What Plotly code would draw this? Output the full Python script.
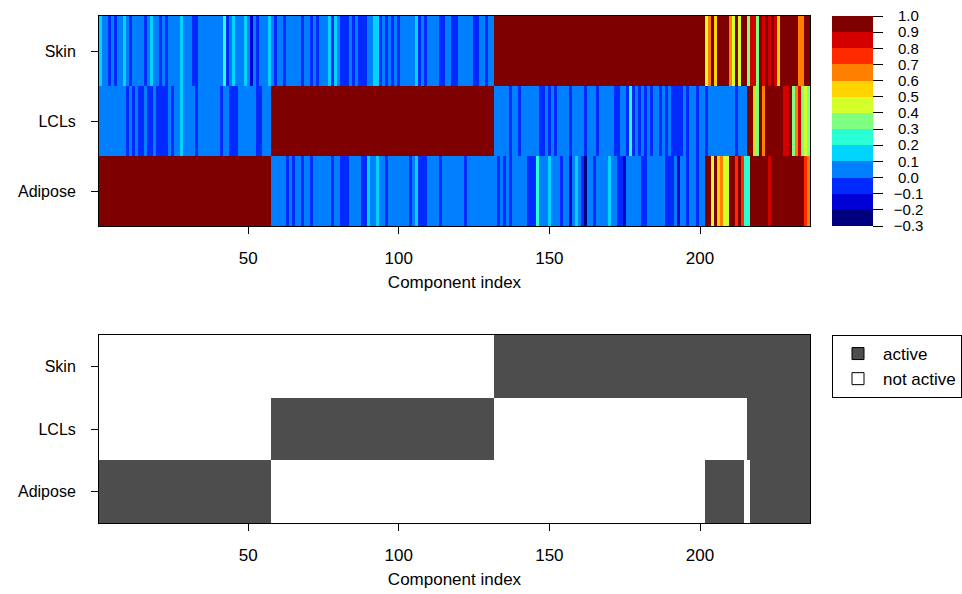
import plotly.graph_objects as go

W, H = 962, 594

TISSUES = ["Adipose", "LCLs", "Skin"]
N_COMPONENTS = 236
COMPONENT_INDEX = list(range(1, N_COMPONENTS + 1))

# One letter per component; each letter stands for a value inside one 0.1-wide band
LEVEL = {
    "n": -0.25, "b": -0.15, "m": -0.05, "a": 0.05, "c": 0.15, "q": 0.25, "g": 0.35,
    "y": 0.45, "o": 0.55, "O": 0.65, "R": 0.75, "r": 0.85, "D": 0.98,
}

SKIN_LEVELS = (
    "caamamaaca" "maaaamacaa" "mamaaaacaa" "ammaaaaaaa"
    "aqmacaaaca" "bamaaacama" "amaaaaamaa" "mamaaacmca"
    "mmmamammma" "accmamamam" "aaaaacmama" "aaammaamma"
    "aaaammaamaa"
    + "D" * 70
    + "yODoDDDDOyDyDDgrrgDrDrDroDDDDDDOODD"
)

LCLS_LEVELS = (
    "aaaaaaaaam" "amammammam" "mmmamaacaa" "aamaaaaaaa"
    "maammmaaaa" "aammaaa"
    + "D" * 74
    + "aaaaamaamaaaaaammamamaaaamaaa"
    + "amaaamaaaaammaamqmamamamaamamammmmamaam"
    + "aamaaaaaaaaamaaaDDogDODDDDDDrrDgOrgyg"
)

ADIPOSE_LEVELS = (
    "D" * 57
    + "aaaaamamaamaamaaaaaamaa"
    + "mmmaaaammcaacaamaaaaaaamacmmmaaaamaaaaaa"
    + "amaaaaaaaaaamamamaaaaammmqaaacaaamaabaca"
    + "mnaamaaaacaammbaaaaammaaaaaammmabaamaam"
    + "aaDDyDoOyyDDRDRqqDDDDDDrDDDDDDDDDDDRO"
)

# Components in which each tissue is flagged active (inclusive index ranges)
ADIPOSE_ACTIVE = [(1, 57), (202, 214), (217, 236)]
LCLS_ACTIVE = [(58, 131), (216, 236)]
SKIN_ACTIVE = [(132, 236)]

BREAKS = [-0.3, -0.2, -0.1, 0.0, 0.1, 0.2, 0.3, 0.4, 0.5, 0.6, 0.7, 0.8, 0.9, 1.0]
JET13 = [
    "#00007F", "#0000D4", "#002AFF", "#007FFF", "#00D4FF", "#2AFFD4", "#7FFF7F",
    "#D4FF2A", "#FFD400", "#FF7F00", "#FF2A00", "#D40000", "#7F0000",
]
ACTIVE_COLOR = "#4D4D4D"
FONT = "Liberation Sans, Arial, Helvetica, sans-serif"
FS = 17

for row in (SKIN_LEVELS, LCLS_LEVELS, ADIPOSE_LEVELS):
    assert len(row) == N_COMPONENTS, len(row)


def to_values(codes):
    return [LEVEL[ch] for ch in codes]


def to_flags(ranges):
    flags = [0] * N_COMPONENTS
    for lo, hi in ranges:
        for k in range(lo, hi + 1):
            flags[k - 1] = 1
    return flags


loadings = [to_values(ADIPOSE_LEVELS), to_values(LCLS_LEVELS), to_values(SKIN_LEVELS)]
activity = [to_flags(ADIPOSE_ACTIVE), to_flags(LCLS_ACTIVE), to_flags(SKIN_ACTIVE)]

# stepped colour scale: one flat band per 0.1 interval
n_bins = len(JET13)
jet_scale = []
for i, col in enumerate(JET13):
    jet_scale.append([i / n_bins, col])
    jet_scale.append([(i + 1) / n_bins, col])

bin_scale = [[0, "white"], [0.5, "white"], [0.5, ACTIVE_COLOR], [1, ACTIVE_COLOR]]


def fmt(v):
    s = f"{abs(v):.1f}"
    pad = "\u00a0\u00a0"
    return (pad + "\u2212" + s) if v < -1e-9 else (pad + "\u00a0" + s)


fig = go.Figure()

fig.add_trace(go.Heatmap(
    z=loadings, x=COMPONENT_INDEX, y=[0, 1, 2],
    colorscale=jet_scale, zmin=BREAKS[0], zmax=BREAKS[-1],
    xaxis="x", yaxis="y", hoverinfo="skip",
    colorbar=dict(
        x=832 / W, xanchor="left", xref="paper",
        y=(H - 121) / H, yanchor="middle",
        thickness=41, thicknessmode="pixels",
        len=210, lenmode="pixels",
        xpad=0, ypad=0, outlinewidth=0,
        tickmode="array", tickvals=BREAKS, ticktext=[fmt(v) for v in BREAKS],
        ticks="outside", ticklen=10, tickwidth=1, tickcolor="black",
        tickfont=dict(family=FONT, size=15, color="black"),
    ),
))

fig.add_trace(go.Heatmap(
    z=activity, x=COMPONENT_INDEX, y=[0, 1, 2],
    colorscale=bin_scale, zmin=0, zmax=1, showscale=False,
    xaxis="x2", yaxis="y2", hoverinfo="skip",
))

for name, col in (("active", ACTIVE_COLOR), ("not active", "white")):
    fig.add_trace(go.Scatter(
        x=[None], y=[None], mode="markers", name=name,
        xaxis="x2", yaxis="y2",
        marker=dict(symbol="square", size=12, color=col,
                    line=dict(color="black", width=1)),
    ))

x_dom = [99 / W, 810 / W]
common_x = dict(
    range=[0.5, N_COMPONENTS + 0.5], tickmode="array", tickvals=[50, 100, 150, 200],
    ticks="outside", ticklen=7, tickcolor="black", tickwidth=1,
    showline=True, mirror=True, linecolor="black", linewidth=1,
    showgrid=False, zeroline=False, automargin=False,
    ticklabelstandoff=10,
    tickfont=dict(family=FONT, size=FS, color="black"),
    title=dict(text="Component index", standoff=8,
               font=dict(family=FONT, size=FS, color="black")),
)
common_y = dict(
    range=[-0.5, 2.5], tickmode="array", tickvals=[0, 1, 2], ticktext=TISSUES,
    ticks="outside", ticklen=7, tickcolor="black", tickwidth=1,
    showline=True, mirror=True, linecolor="black", linewidth=1,
    showgrid=False, zeroline=False, automargin=False,
    ticklabelstandoff=12,
    tickfont=dict(family=FONT, size=FS - 1, color="black"),
)

fig.update_layout(
    width=W, height=H, template="none",
    margin=dict(l=0, r=0, t=0, b=0),
    paper_bgcolor="white", plot_bgcolor="white",
    font=dict(family=FONT, size=FS, color="black"),
    xaxis=dict(domain=x_dom, anchor="y", **common_x),
    yaxis=dict(domain=[(H - 226) / H, (H - 16) / H], anchor="x", **common_y),
    xaxis2=dict(domain=x_dom, anchor="y2", **common_x),
    yaxis2=dict(domain=[(H - 523) / H, (H - 335) / H], anchor="x2", **common_y),
    showlegend=True,
    legend=dict(
        x=832 / W, y=(H - 335) / H, xanchor="left", yanchor="top",
        bordercolor="black", borderwidth=1, bgcolor="white",
        font=dict(family=FONT, size=FS, color="black"),
        tracegroupgap=0, itemwidth=40,
    ),
)

fig.write_html("out.html")
